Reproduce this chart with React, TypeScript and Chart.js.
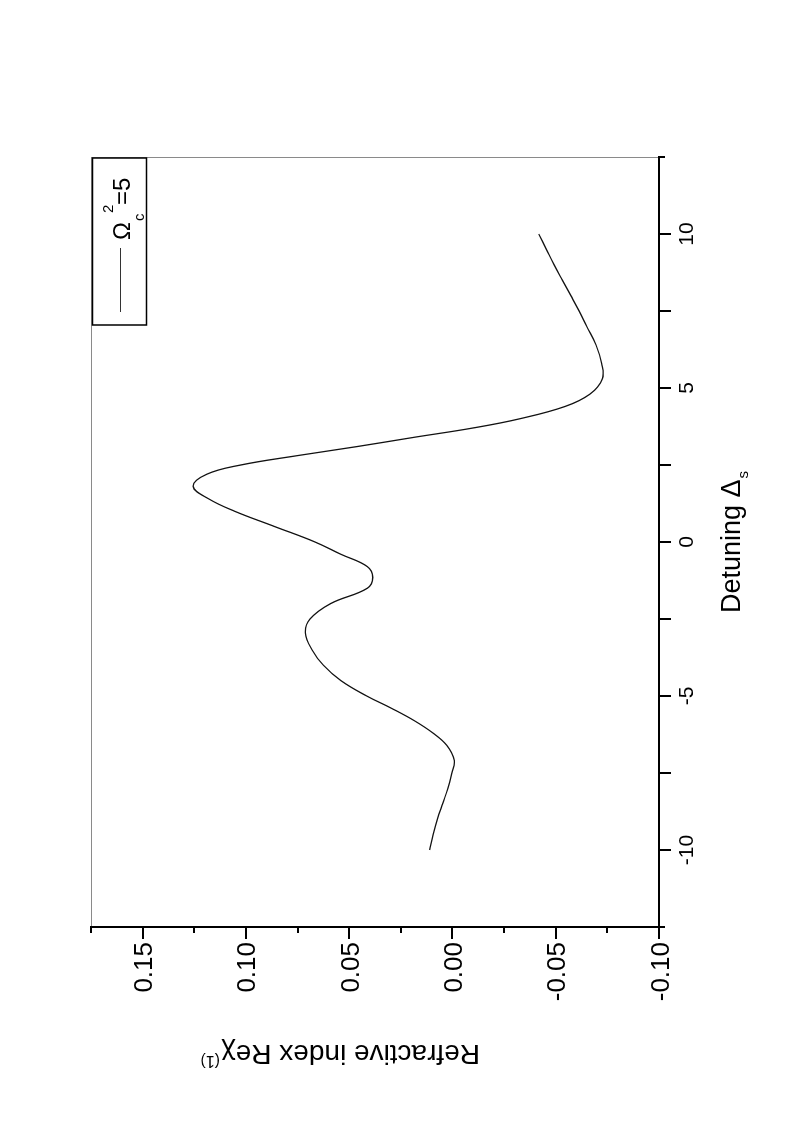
import React, { useEffect, useRef } from 'react';
import { Chart, registerables } from 'chart.js';

Chart.register(...registerables);

// ---- data ----
const DETUNING = [
  -10, -9.5, -9, -8.5, -8, -7.5, -7.1, -6.6, -6.2, -5.8, -5.4, -5, -4.5, -4, -3.5, -2.95,
  -2.5, -2, -1.5, -1.15, -0.8, -0.4, 0, 0.5, 1, 1.4, 1.8, 2.2, 2.5, 2.8, 3.1, 3.4,
  3.7, 4, 4.4, 4.8, 5.3, 5.8, 6.4, 7, 7.5, 8, 8.5, 9, 9.5, 10,
];
const REFRACTIVE = [
  0.0111, 0.0094, 0.0073, 0.0048, 0.0022, 0.0003, -0.0009, 0.0028, 0.0095, 0.0185, 0.0295,
  0.0415, 0.054, 0.0625, 0.068, 0.0712, 0.069, 0.059, 0.0412, 0.0386, 0.0412, 0.054, 0.0665,
  0.086, 0.1055, 0.118, 0.1255, 0.119, 0.1025, 0.0755, 0.046, 0.0185, -0.0098, -0.0325,
  -0.0545, -0.0665, -0.0726, -0.0722, -0.0695, -0.065, -0.0613, -0.0573, -0.0532,
  -0.0492, -0.0455, -0.0418,
];

const X_RANGE = [-12.5, 12.5];
const Y_RANGE = [-0.1, 0.175];
const X_MAJOR = [-10, -5, 0, 5, 10];
const X_MAJOR_LABELS = ['-10', '-5', '0', '5', '10'];
const X_MINOR = [-12.5, -7.5, -2.5, 2.5, 7.5, 12.5];
const Y_MAJOR = [-0.1, -0.05, 0, 0.05, 0.1, 0.15];
const Y_MAJOR_LABELS = ['-0.10', '-0.05', '0.00', '0.05', '0.10', '0.15'];
const Y_MINOR = [-0.075, -0.025, 0.025, 0.075, 0.125, 0.175];

const X_TITLE = 'Detuning \u0394';
const X_TITLE_SUB = 's';
const Y_TITLE = 'Refractive index Re\u03C7';
const Y_TITLE_SUP = '(1)';
const LEGEND_MAIN = '\u03A9';
const LEGEND_SUB = 'c';
const LEGEND_SUP = '2';
const LEGEND_TAIL = '=5';

const W = 1131;
const H = 788;
const FONT = '"Liberation Sans", Arial, Helvetica, sans-serif';

const decor = {
  id: 'decor',
  afterDraw(chart: any) {
    const { ctx, chartArea: ca } = chart;
    const xs = chart.scales.x;
    const ys = chart.scales.y;
    ctx.save();

    // thin frame (top/right in unrotated space)
    ctx.strokeStyle = '#8a8a8a';
    ctx.lineWidth = 1;
    ctx.beginPath();
    ctx.moveTo(ca.left, ca.top + 0.5);
    ctx.lineTo(ca.right, ca.top + 0.5);
    ctx.moveTo(ca.right - 0.5, ca.top);
    ctx.lineTo(ca.right - 0.5, ca.bottom);
    ctx.stroke();

    // thick axes
    ctx.strokeStyle = '#000';
    ctx.lineWidth = 2;
    ctx.lineCap = 'square';
    ctx.beginPath();
    ctx.moveTo(ca.left, ca.top);
    ctx.lineTo(ca.left, ca.bottom);
    ctx.lineTo(ca.right, ca.bottom);
    ctx.stroke();
    ctx.lineCap = 'butt';

    // x ticks
    const xt = (v: number, len: number) => {
      const p = Math.round(xs.getPixelForValue(v));
      ctx.beginPath();
      ctx.moveTo(p, ca.bottom);
      ctx.lineTo(p, ca.bottom + len);
      ctx.stroke();
    };
    X_MAJOR.forEach((v) => xt(v, 12));
    X_MINOR.forEach((v) => xt(v, Math.abs(v) > 12 ? 6 : 12));

    // y ticks
    const yt = (v: number, len: number) => {
      const p = Math.round(ys.getPixelForValue(v));
      ctx.beginPath();
      ctx.moveTo(ca.left, p);
      ctx.lineTo(ca.left - len, p);
      ctx.stroke();
    };
    Y_MAJOR.forEach((v) => yt(v, 12));
    Y_MINOR.forEach((v) => yt(v, 6));

    ctx.fillStyle = '#000';
    // x tick labels
    ctx.font = `21px ${FONT}`;
    ctx.textAlign = 'center';
    ctx.textBaseline = 'alphabetic';
    X_MAJOR.forEach((v, i) => {
      ctx.fillText(X_MAJOR_LABELS[i], xs.getPixelForValue(v), ca.bottom + 34);
    });

    // y tick labels
    ctx.font = `26px ${FONT}`;
    ctx.textAlign = 'right';
    Y_MAJOR.forEach((v, i) => {
      ctx.fillText(Y_MAJOR_LABELS[i], ca.left - 15, ys.getPixelForValue(v) + 9.5);
    });

    // x title
    ctx.font = `27px ${FONT}`;
    ctx.textAlign = 'left';
    const mainW = ctx.measureText(X_TITLE).width;
    ctx.font = `15px ${FONT}`;
    const subW = ctx.measureText(X_TITLE_SUB).width;
    const startX = (ca.left + ca.right) / 2 - (mainW + subW + 1) / 2;
    const baseX = ca.bottom + 81;
    ctx.font = `27px ${FONT}`;
    ctx.fillText(X_TITLE, startX, baseX);
    ctx.font = `15px ${FONT}`;
    ctx.fillText(X_TITLE_SUB, startX + mainW + 1, baseX + 8);

    // y title (rotated, reading bottom to top)
    ctx.save();
    ctx.translate(ca.left - 118, ca.top + 389);
    ctx.rotate(-Math.PI / 2);
    ctx.font = `28px ${FONT}`;
    ctx.fillText(Y_TITLE, 0, 0);
    const yw = ctx.measureText(Y_TITLE).width;
    ctx.font = `16px ${FONT}`;
    ctx.fillText(Y_TITLE_SUP, yw + 1, -11);
    ctx.restore();

    // legend
    const lx = ca.right;
    const ly = ca.top;
    ctx.strokeStyle = '#000';
    ctx.lineWidth = 1.5;
    ctx.strokeRect(lx - 168, ly + 1.5, 167, 54);
    ctx.strokeStyle = '#333';
    ctx.lineWidth = 1;
    ctx.beginPath();
    ctx.moveTo(lx - 155, ly + 29.5);
    ctx.lineTo(lx - 91, ly + 29.5);
    ctx.stroke();
    ctx.textAlign = 'left';
    ctx.font = `24px ${FONT}`;
    ctx.fillText(LEGEND_MAIN, lx - 83, ly + 39);
    ctx.font = `15px ${FONT}`;
    ctx.fillText(LEGEND_SUB, lx - 64, ly + 53);
    ctx.fillText(LEGEND_SUP, lx - 56, ly + 22);
    ctx.font = `24px ${FONT}`;
    ctx.fillText(LEGEND_TAIL, lx - 48, ly + 39);

    ctx.restore();
  },
};

export default function App() {
  const ref = useRef<HTMLCanvasElement | null>(null);

  useEffect(() => {
    if (!ref.current) return;
    const points = DETUNING.map((d, i) => ({ x: d, y: REFRACTIVE[i] }));
    const chart = new Chart(ref.current, {
      type: 'line',
      data: {
        datasets: [
          {
            label: 'Omega_c^2=5',
            data: points,
            borderColor: '#111',
            borderWidth: 1.3,
            pointRadius: 0,
            fill: false,
            tension: 0.4,
          },
        ],
      },
      options: {
        responsive: false,
        animation: false,
        devicePixelRatio: 1,
        layout: { padding: { left: 204, right: 157, top: 91, bottom: 129 } },
        plugins: { legend: { display: false }, tooltip: { enabled: false } },
        scales: {
          x: {
            type: 'linear',
            position: 'bottom',
            min: X_RANGE[0],
            max: X_RANGE[1],
            grid: { display: false },
            border: { display: false },
            ticks: { display: false },
            afterFit: (s: any) => {
              s.height = 0;
            },
          },
          y: {
            type: 'linear',
            position: 'left',
            min: Y_RANGE[0],
            max: Y_RANGE[1],
            grid: { display: false },
            border: { display: false },
            ticks: { display: false },
            afterFit: (s: any) => {
              s.width = 0;
            },
          },
        },
      } as any,
      plugins: [decor],
    });
    return () => chart.destroy();
  }, []);

  return (
    <div
      style={{
        position: 'absolute',
        left: 0,
        top: 0,
        width: 788,
        height: 1131,
        overflow: 'hidden',
        background: '#fff',
      }}
    >
      <div
        style={{
          position: 'absolute',
          left: 0,
          top: 0,
          width: W,
          height: H,
          transformOrigin: '0 0',
          transform: `translate(0px, ${W}px) rotate(-90deg)`,
        }}
      >
        <canvas ref={ref} width={W} height={H} style={{ display: 'block' }} />
      </div>
    </div>
  );
}
